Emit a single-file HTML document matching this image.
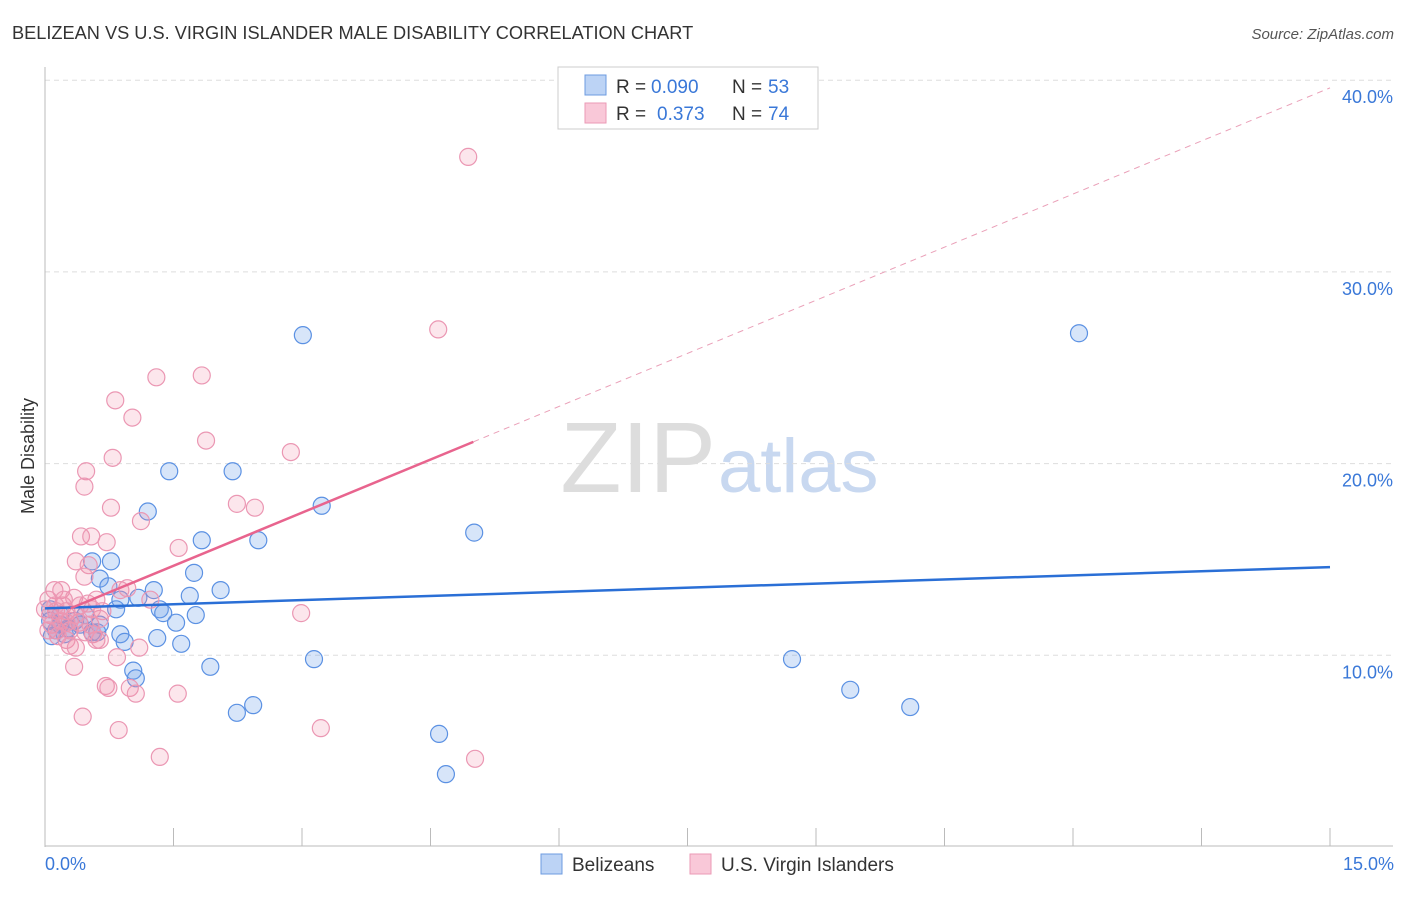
<!DOCTYPE html>
<html><head><meta charset="utf-8"><style>
body{margin:0;background:#fff;font-family:"Liberation Sans",sans-serif;}
svg text{font-family:"Liberation Sans",sans-serif;}
</style></head><body>
<svg width="1406" height="892" xmlns="http://www.w3.org/2000/svg">
<text x="12" y="39" font-size="18.2" fill="#333">BELIZEAN VS U.S. VIRGIN ISLANDER MALE DISABILITY CORRELATION CHART</text>
<text x="1394" y="39" font-size="15" fill="#555" font-style="italic" text-anchor="end">Source: ZipAtlas.com</text>
<text x="716" y="492" font-size="100" fill="#ddd" font-family="Liberation Serif" text-anchor="end">ZIP</text>
<text x="718" y="492" font-size="76" fill="#c8d8f0">atlas</text>
<g id="grid"></g><g id="axes"></g><g id="pts"></g><g id="lines"></g>
<text x="34" y="456" font-size="18" fill="#333" text-anchor="middle" transform="rotate(-90 34 456)">Male Disability</text>
<text x="45" y="870" font-size="18" fill="#3a78d8">0.0%</text>
<text x="1394" y="870" font-size="18" fill="#3a78d8" text-anchor="end">15.0%</text>
<g>
<rect x="558" y="67" width="260" height="62" fill="#fff" stroke="#ccc"/>
<rect x="585" y="75" width="21" height="20" fill="#bcd3f5" stroke="#6d9be0"/>
<rect x="585" y="103" width="21" height="20" fill="#f9c8d8" stroke="#eb9ab6"/>
<text x="616" y="93" font-size="19" fill="#333">R =</text>
<text x="651" y="93" font-size="19" fill="#3a78d8">0.090</text>
<text x="732" y="93" font-size="19" fill="#333">N =</text>
<text x="768" y="93" font-size="19" fill="#3a78d8">53</text>
<text x="616" y="120" font-size="19" fill="#333">R =</text>
<text x="657" y="120" font-size="19" fill="#3a78d8">0.373</text>
<text x="732" y="120" font-size="19" fill="#333">N =</text>
<text x="768" y="120" font-size="19" fill="#3a78d8">74</text>
</g>
<g>
<rect x="541" y="854" width="21" height="20" fill="#bcd3f5" stroke="#6d9be0"/>
<text x="572" y="871" font-size="19" fill="#333">Belizeans</text>
<rect x="690" y="854" width="21" height="20" fill="#f9c8d8" stroke="#eb9ab6"/>
<text x="721" y="871" font-size="19" fill="#333">U.S. Virgin Islanders</text>
</g>
</svg>
<script>
const yTicks=[10,20,30,40];
const yTickLabels=["10.0%","20.0%","30.0%","40.0%"];
const xTicks=[0,1.5,3,4.5,6,7.5,9,10.5,12,13.5,15];
const blueX=[3.01,12.07,1.45,2.19,1.20,3.23,5.01,1.83,2.49,0.55,0.77,1.74,0.64,0.74,1.27,2.05,1.69,1.09,0.83,1.34,1.76,1.38,1.53,0.06,0.18,0.13,0.08,0.23,0.41,0.55,0.61,0.88,0.93,1.31,1.59,3.14,8.72,1.93,1.03,1.06,9.40,10.10,2.43,2.24,4.60,4.68,0.35,0.27,0.47,0.88,0.18,0.06,0.64];
const blueY=[26.7,26.8,19.6,19.6,17.5,17.8,16.4,16.0,16.0,14.9,14.9,14.3,14.0,13.6,13.4,13.4,13.1,13.0,12.4,12.4,12.1,12.2,11.7,12.4,11.6,11.3,11.0,11.1,11.6,11.2,11.2,11.1,10.7,10.9,10.6,9.8,9.8,9.4,9.2,8.8,8.2,7.3,7.4,7.0,5.9,3.8,11.8,11.4,12.1,12.9,12.1,11.8,11.6];
const pinkX=[4.94,4.59,1.30,1.83,0.82,1.02,1.88,2.87,0.79,0.48,0.46,2.24,2.45,0.77,1.12,0.42,0.54,1.56,0.72,0.36,0.51,0.46,0.11,0.19,0.04,0.21,0.34,0.60,0.96,0.50,0.67,2.99,0.13,0.25,0.29,0.08,0.40,0.14,0.56,0.25,0.29,0.60,0.36,1.10,0.84,0.34,0.71,0.74,0.99,1.06,1.55,0.44,0.86,3.22,1.34,5.02,0.06,0.18,0.0,0.29,0.53,0.64,0.22,0.12,0.41,0.25,0.04,0.15,0.47,0.55,0.88,1.23,0.64,0.35];
const pinkY=[36.0,27.0,24.5,24.6,23.3,22.4,21.2,20.6,20.3,19.6,18.8,17.9,17.7,17.7,17.0,16.2,16.2,15.6,15.9,14.9,14.7,14.1,13.4,13.4,12.9,12.6,13.0,12.9,13.5,12.7,12.3,12.2,12.3,12.3,11.8,11.6,11.7,11.3,11.1,10.8,10.5,10.8,10.4,10.4,9.9,9.4,8.4,8.3,8.3,8.0,8.0,6.8,6.1,6.2,4.7,4.6,12.1,11.8,12.4,11.3,11.6,11.9,12.9,12.6,12.6,11.7,11.3,11.0,11.2,12.4,13.4,12.9,10.8,12.1];
const blueTrend=[12.45,14.6];
const pinkTrend=[11.9,39.6];
const pinkSolidEnd=5.0;

const NS="http://www.w3.org/2000/svg";
const sx=v=>45+v/15*1285;
const sy=v=>847-v*19.17;
function mk(tag,attrs,parent){const e=document.createElementNS(NS,tag);for(const k in attrs)e.setAttribute(k,attrs[k]);document.getElementById(parent).appendChild(e);return e;}
yTicks.forEach((t,i)=>{
  const l=mk('line',{x1:45,x2:1393,y1:sy(t),y2:sy(t),stroke:'#ddd','stroke-dasharray':'5,4'},'grid');
  
  
  const tx=mk('text',{x:1393,y:sy(t)+23,'font-size':18,fill:'#3a78d8','text-anchor':'end'},'grid');
  tx.textContent=yTickLabels[i];
  
  
});
const ya=mk('line',{x1:45,x2:45,y1:67,y2:847,stroke:'#bbb'},'axes');


const xa=mk('line',{x1:45,x2:1393,y1:846,y2:846,stroke:'#bbb'},'axes');


xTicks.forEach(t=>{
  const l=mk('line',{x1:sx(t),x2:sx(t),y1:828,y2:846,stroke:'#bbb'},'axes');
  
  
});
blueX.forEach((x,i)=>{
  const c=mk('circle',{cx:sx(x),cy:sy(blueY[i]),r:8.5,fill:'rgba(110,160,235,0.28)',stroke:'#5b91e3','stroke-width':1.2},'pts');
  
  
});
pinkX.forEach((x,i)=>{
  const c=mk('circle',{cx:sx(x),cy:sy(pinkY[i]),r:8.5,fill:'rgba(240,140,170,0.22)',stroke:'#eb97b3','stroke-width':1.2},'pts');
  
  
});
const bt=mk('line',{x1:sx(0),y1:sy(blueTrend[0]),x2:sx(15),y2:sy(blueTrend[1]),stroke:'#2a6fd6','stroke-width':2.5},'lines');


const pAt=v=>pinkTrend[0]+(pinkTrend[1]-pinkTrend[0])*v/15;
const pd=mk('line',{x1:sx(pinkSolidEnd),y1:sy(pAt(pinkSolidEnd)),x2:sx(15),y2:sy(pinkTrend[1]),stroke:'#eaa0b8','stroke-width':1,'stroke-dasharray':'6,5'},'lines');


const ps=mk('line',{x1:sx(0.3),y1:sy(pAt(0.3)),x2:sx(pinkSolidEnd),y2:sy(pAt(pinkSolidEnd)),stroke:'#e8648e','stroke-width':2.5},'lines');


</script>
</body></html>
